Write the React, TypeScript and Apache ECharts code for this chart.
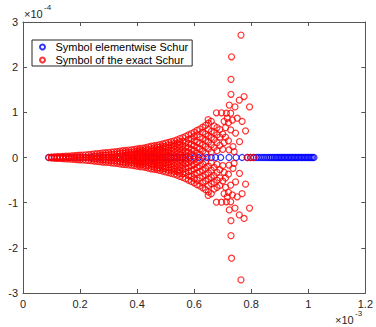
import React, { useEffect, useRef } from "react";
import * as echarts from "echarts";

// x in units of 1e-3, y in units of 1e-4
const xTicks = [0, 0.2, 0.4, 0.6, 0.8, 1, 1.2];
const yTicks = [-3, -2, -1, 0, 1, 2, 3];

const blueX = [
  0.09, 0.1, 0.11, 0.12, 0.14, 0.16, 0.18, 0.2, 0.22, 0.24, 0.26, 0.28, 0.3, 0.32, 0.34, 0.355, 0.37, 0.385,
  0.4, 0.41, 0.42, 0.43, 0.44, 0.45, 0.46, 0.47, 0.48, 0.49, 0.5, 0.51, 0.52, 0.53, 0.54, 0.55, 0.56, 0.57,
  0.585, 0.6, 0.615, 0.63, 0.645, 0.66, 0.675, 0.693, 0.722, 0.747, 0.768, 0.786, 0.798, 0.809, 0.818, 0.826,
  0.834, 0.841, 0.848, 0.855, 0.862, 0.868, 0.874, 0.88, 0.886, 0.891, 0.896, 0.901, 0.906, 0.911, 0.916,
  0.921, 0.926, 0.931, 0.936, 0.941, 0.946, 0.951, 0.956, 0.961, 0.966, 0.971, 0.976, 0.981, 0.986, 0.991,
  0.996, 1.001, 1.006, 1.011, 1.016, 1.02,
];
const blueY = blueX.map(() => 0);

// upper half of the exact-Schur symbol (picture is symmetric about y = 0)
const redColumns: [number, number[]][] = [
  [0.09, [0]], [0.1, [0, 0.01]], [0.11, [0, 0.015]], [0.12, [0, 0.02]], [0.13, [0, 0.02]],
  [0.14, [0, 0.025]], [0.15, [0, 0.03]], [0.16, [0, 0.03]], [0.17, [0, 0.035]], [0.18, [0, 0.04]],
  [0.19, [0, 0.045]], [0.2, [0, 0.05]], [0.21, [0, 0.055]], [0.22, [0, 0.06]], [0.23, [0, 0.065]],
  [0.24, [0.02, 0.07]], [0.25, [0.03, 0.08]], [0.26, [0.03, 0.085]], [0.27, [0, 0.04, 0.09]],
  [0.28, [0, 0.05, 0.1]], [0.29, [0.05, 0.105]], [0.3, [0, 0.06, 0.11]], [0.31, [0.02, 0.07, 0.12]],
  [0.32, [0, 0.07, 0.125]], [0.33, [0.03, 0.08, 0.13]], [0.34, [0, 0.09, 0.14]], [0.35, [0.04, 0.1, 0.15]],
  [0.36, [0, 0.05, 0.1, 0.155]], [0.37, [0.02, 0.07, 0.12, 0.165]], [0.38, [0, 0.06, 0.11, 0.17]],
  [0.39, [0.03, 0.08, 0.13, 0.18]], [0.4, [0, 0.05, 0.1, 0.14, 0.19]], [0.41, [0.02, 0.07, 0.12, 0.16, 0.2]],
  [0.42, [0, 0.05, 0.1, 0.15, 0.21]], [0.43, [0.03, 0.08, 0.13, 0.18, 0.22]],
  [0.44, [0, 0.06, 0.11, 0.17, 0.235]], [0.45, [0.03, 0.08, 0.14, 0.19, 0.25]],
  [0.46, [0, 0.05, 0.1, 0.155, 0.21, 0.26]], [0.47, [0.03, 0.08, 0.13, 0.18, 0.23, 0.27]],
  [0.48, [0, 0.06, 0.11, 0.17, 0.23, 0.285]], [0.49, [0.03, 0.09, 0.14, 0.2, 0.25, 0.3]],
  [0.5, [0, 0.06, 0.12, 0.18, 0.24, 0.32]], [0.51, [0.04, 0.1, 0.16, 0.22, 0.28, 0.335]],
  [0.52, [0, 0.07, 0.14, 0.21, 0.28, 0.35]], [0.53, [0.04, 0.11, 0.18, 0.25, 0.31, 0.37]],
  [0.54, [0, 0.08, 0.15, 0.23, 0.31, 0.39]], [0.55, [0.05, 0.12, 0.2, 0.28, 0.35, 0.42]],
  [0.56, [0.02, 0.1, 0.18, 0.27, 0.36, 0.44]], [0.57, [0.06, 0.14, 0.24, 0.33, 0.47]],
  [0.58, [0.03, 0.12, 0.22, 0.31, 0.4, 0.5]], [0.59, [0.08, 0.18, 0.29, 0.42, 0.53]],
  [0.6, [0.04, 0.15, 0.26, 0.37, 0.47, 0.56]], [0.61, [0.1, 0.22, 0.34, 0.5, 0.6]],
  [0.62, [0.06, 0.19, 0.31, 0.45, 0.63]], [0.63, [0.14, 0.28, 0.42, 0.56, 0.67]],
  [0.64, [0.09, 0.24, 0.38, 0.52, 0.71]], [0.65, [0.19, 0.34, 0.48, 0.62, 0.76]],
  [0.66, [0.12, 0.28, 0.44, 0.58, 0.8]], [0.67, [0.22, 0.4, 0.55, 0.7]],
  [0.68, [0.15, 0.33, 0.5, 0.66]], [0.69, [0.27, 0.45, 0.62]], [0.7, [0.18, 0.52]], [0.71, [0.45, 0.66]],
];

const redOutliers: [number, number][] = [
  [0.764, 2.71], [0.731, 2.23], [0.729, 1.73], [0.729, 1.4], [0.775, 1.35], [0.758, 1.27], [0.743, 1.12],
  [0.723, 1.16], [0.794, 1.12], [0.678, 0.99], [0.696, 0.99], [0.713, 0.98], [0.728, 0.98], [0.649, 0.84],
  [0.716, 0.87], [0.734, 0.83], [0.751, 0.87], [0.768, 0.8], [0.705, 0.8], [0.72, 0.77], [0.78, 0.59],
  [0.728, 0.61], [0.745, 0.54], [0.759, 0.35], [0.736, 0.24], [0.72, 0.37], [0.705, 0.33], [0.722, 0.17],
  [0.74, 0.13], [0.786, 0], [0.798, 0], [0.809, 0],
];

const seriesNames = ["Symbol elementwise Schur", "Symbol of the exact Schur"];

export default function App() {
  const ref = useRef<HTMLDivElement>(null);
  useEffect(() => {
    if (!ref.current) return;
    const chart = echarts.init(ref.current, null, { renderer: "svg" });
    const blueData = blueX.map((x, i) => [x, blueY[i]]);
    const redData: number[][] = [];
    redColumns.forEach(([x, ys]) => {
      ys.forEach((y) => {
        redData.push([x, y]);
        if (y !== 0) redData.push([x, -y]);
      });
    });
    redOutliers.forEach(([x, y]) => {
      redData.push([x, y]);
      if (y !== 0) redData.push([x, -y]);
    });
    const axisColor = "#555";
    const textColor = "#262626";
    const font = "Liberation Sans, Arial, sans-serif";
    const axisCommon = {
      axisLine: { show: true, onZero: false, lineStyle: { color: axisColor, width: 1 } },
      axisTick: { show: true, inside: true, length: 4, lineStyle: { color: axisColor } },
      splitLine: { show: false },
    };
    chart.setOption({
      animation: false,
      backgroundColor: "#fff",
      grid: { left: 23, right: 9, top: 22, bottom: 34, containLabel: false },
      legend: {
        orient: "vertical",
        left: 32,
        top: 40,
        data: seriesNames,
        itemWidth: 16,
        itemHeight: 5,
        itemGap: 1,
        padding: [1, 4, 0, 7],
        borderColor: "#262626",
        borderWidth: 1,
        backgroundColor: "#fff",
        borderRadius: 0,
        textStyle: { fontSize: 11, lineHeight: 12, color: "#000", fontFamily: font },
      },
      xAxis: [
        {
          type: "value", min: 0, max: 1.2, interval: 0.2, position: "bottom", ...axisCommon,
          axisLabel: {
            color: textColor, fontSize: 11, fontFamily: font, margin: 5,
            formatter: (v: number) => {
              const t = xTicks.find((k) => Math.abs(k - v) < 1e-9);
              return t === undefined ? "" : String(t);
            },
          },
        },
        {
          type: "value", min: 0, max: 1.2, interval: 0.2, position: "top", ...axisCommon,
          axisLabel: { show: false },
        },
      ],
      yAxis: [
        {
          type: "value", min: -3, max: 3, interval: 1, position: "left", ...axisCommon,
          axisLabel: {
            color: textColor, fontSize: 11, fontFamily: font, margin: 5,
            formatter: (v: number) => {
              const t = yTicks.find((k) => Math.abs(k - v) < 1e-9);
              return t === undefined ? "" : String(t);
            },
          },
        },
        {
          type: "value", min: -3, max: 3, interval: 1, position: "right", ...axisCommon,
          axisLabel: { show: false },
        },
      ],
      graphic: [
        { type: "text", left: 24, top: 8, style: { text: "×10", fontSize: 11, fill: textColor, fontFamily: font } },
        { type: "text", left: 44, top: 3, style: { text: "-4", fontSize: 8, fill: textColor, fontFamily: font } },
        { type: "text", left: 335, top: 314, style: { text: "×10", fontSize: 11, fill: textColor, fontFamily: font } },
        { type: "text", left: 355, top: 309, style: { text: "-3", fontSize: 8, fill: textColor, fontFamily: font } },
      ],
      series: [
        {
          name: seriesNames[0], type: "scatter", data: blueData, symbol: "circle", symbolSize: 6,
          itemStyle: { color: "rgba(0,0,0,0)", borderColor: "#0000ff", borderWidth: 1.2 },
          xAxisIndex: 0, yAxisIndex: 0,
        },
        {
          name: seriesNames[1], type: "scatter", data: redData, symbol: "circle", symbolSize: 6,
          itemStyle: { color: "rgba(0,0,0,0)", borderColor: "#ff0000", borderWidth: 1.2 },
          xAxisIndex: 0, yAxisIndex: 0,
        },
      ],
    });
    return () => chart.dispose();
  }, []);
  return <div ref={ref} style={{ position: "fixed", left: 0, top: 0, width: 376, height: 327 }} />;
}
